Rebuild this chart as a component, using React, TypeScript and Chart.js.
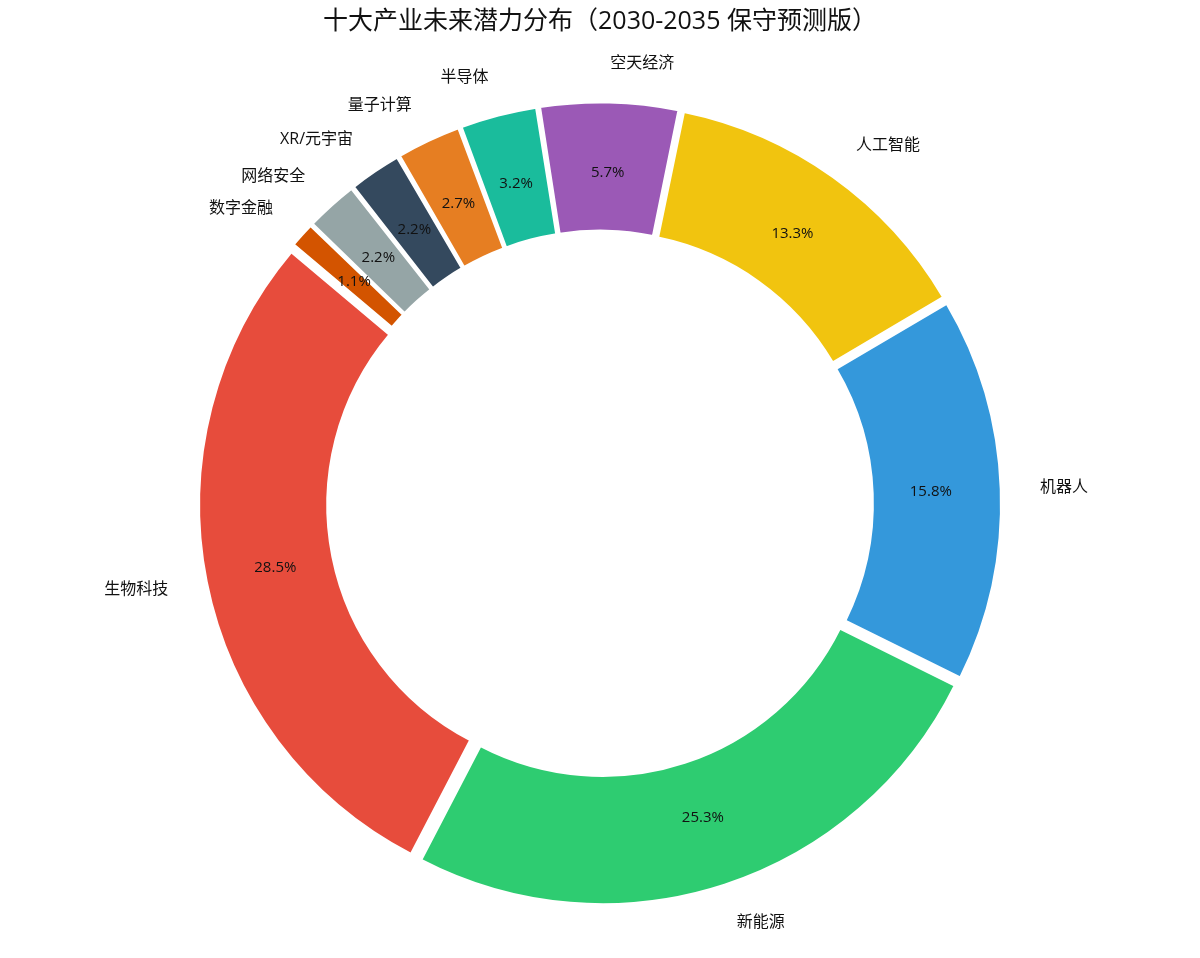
import React, { useEffect, useRef } from "react";
import { ArcElement, Chart, DoughnutController, Plugin, Title } from "chart.js";

Chart.register(DoughnutController, ArcElement, Title);

const industries = [
  "人工智能",
  "机器人",
  "新能源",
  "生物科技",
  "数字金融",
  "网络安全",
  "XR/元宇宙",
  "量子计算",
  "半导体",
  "空天经济",
];
const shares = [13.3, 15.8, 25.3, 28.5, 1.1, 2.2, 2.2, 2.7, 3.2, 5.7];
const sliceColors = [
  "#f1c40f",
  "#3498db",
  "#2ecc71",
  "#e74c3c",
  "#d35400",
  "#95a5a6",
  "#34495e",
  "#e67e22",
  "#1abc9c",
  "#9b59b6",
];

const FONT = '"Open Sans", "Noto Sans CJK SC", sans-serif';
const RADIUS = 393;
const EXPLODE = 8; // px each slice is pushed out
const LABEL_DIST = 1.1;
const PCT_DIST = 0.822;

// chart.js grows the radius of small offset arcs; undo that so slices only shift
const keepRadius: Plugin<"doughnut"> = {
  id: "keepRadius",
  afterDatasetUpdate(chart) {
    const meta = chart.getDatasetMeta(0);
    meta.data.forEach((el: any) => {
      const fix = 1 - Math.sin(Math.min(Math.PI, el.circumference || 0));
      el.outerRadius -= EXPLODE * fix;
      el.innerRadius -= EXPLODE * fix;
    });
  },
};

const sliceLabels: Plugin<"doughnut"> = {
  id: "sliceLabels",
  afterDatasetsDraw(chart) {
    const ctx = chart.ctx;
    const meta = chart.getDatasetMeta(0);
    const total = shares.reduce((a, b) => a + b, 0);
    ctx.save();
    meta.data.forEach((el: any, i) => {
      const mid = (el.startAngle + el.endAngle) / 2;
      const cx = el.x;
      const cy = el.y;
      const dx = Math.cos(mid);
      const dy = Math.sin(mid);

      const lr = EXPLODE + LABEL_DIST * RADIUS;
      const lx = cx + dx * lr;
      const ly = cy + dy * lr;
      ctx.font = `16px ${FONT}`;
      ctx.fillStyle = "#111";
      ctx.textBaseline = "middle";
      ctx.textAlign = lx > cx ? "left" : "right";
      ctx.fillText(industries[i], lx, ly);

      const pr = EXPLODE + PCT_DIST * RADIUS;
      ctx.font = `15px ${FONT}`;
      ctx.textAlign = "center";
      ctx.fillText(((shares[i] / total) * 100).toFixed(1) + "%", cx + dx * pr, cy + dy * pr);
    });
    ctx.restore();
  },
};

const App: React.FC = () => {
  const chartRef = useRef<HTMLCanvasElement | null>(null);

  useEffect(() => {
    if (!chartRef.current) return;
    const ctx = chartRef.current.getContext("2d");
    if (!ctx) return;

    const myChart = new Chart(ctx, {
      type: "doughnut",
      data: {
        labels: industries,
        datasets: [
          {
            data: shares,
            backgroundColor: sliceColors,
            borderColor: "#ffffff",
            borderWidth: 2,
            offset: EXPLODE * 4,
            hoverOffset: 0,
          },
        ],
      },
      options: {
        responsive: true,
        maintainAspectRatio: false,
        animation: false,
        rotation: 11.6,
        radius: RADIUS,
        cutout: "67.4%",
        layout: { padding: { left: 0, right: 0, top: 0, bottom: 0 } },
        plugins: {
          legend: { display: false },
          tooltip: { enabled: false },
          title: {
            display: true,
            text: "十大产业未来潜力分布（2030-2035 保守预测版）",
            color: "#111",
            font: { family: FONT, size: 25, weight: "normal", lineHeight: 1.2 },
            padding: { top: 7, bottom: 12 },
          },
        },
      },
      plugins: [keepRadius, sliceLabels],
    });

    return () => {
      myChart.destroy();
    };
  }, []);

  return (
    <div style={{ position: "absolute", left: 0, top: 0, width: 1200, height: 958, background: "#fff" }}>
      <canvas ref={chartRef} />
    </div>
  );
};

export default App;
